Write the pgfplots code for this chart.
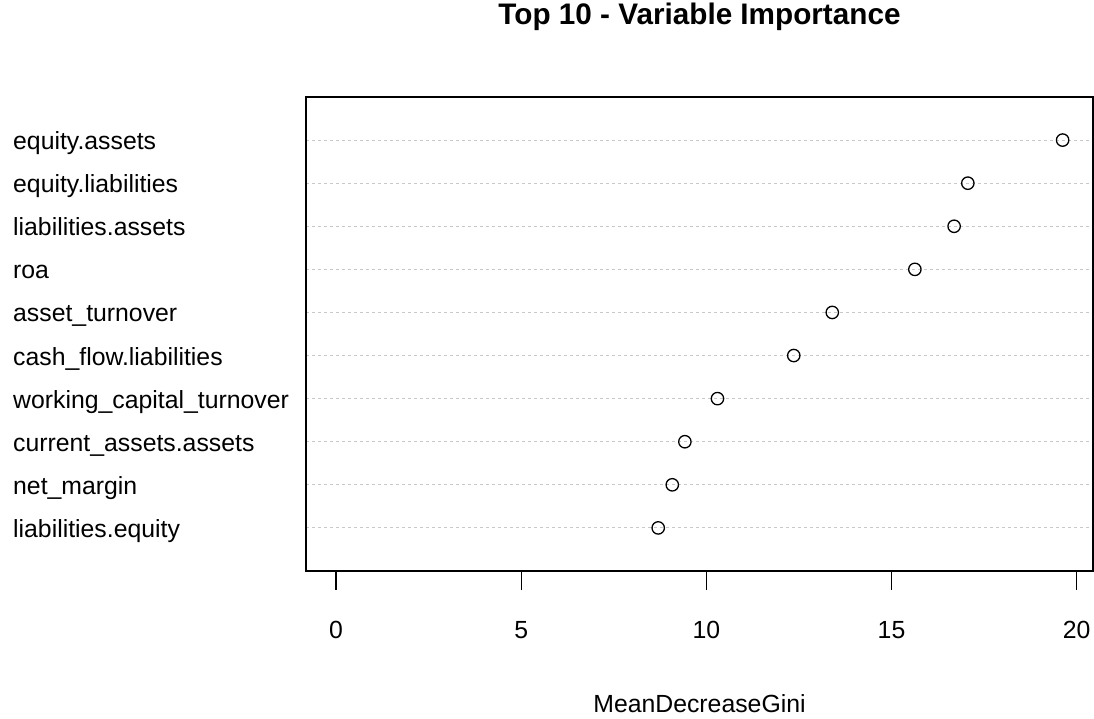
\documentclass[border=0pt]{standalone}
\usepackage{fontspec}
\setmainfont{Liberation Sans}
\usepackage{pgfplots}
\pgfplotsset{compat=1.18}
\definecolor{gridgray}{RGB}{200,200,200}
\begin{document}
\begin{tikzpicture}
\path[use as bounding box] (0,0) rectangle (1094pt,719pt);
\begin{axis}[
  at={(306pt,148pt)}, anchor=south west,
  scale only axis, width=787pt, height=474pt,
  xmin=-0.81, xmax=20.44, ymin=0, ymax=11,
  xtick={0,5,10,15,20},
  ytick={1,2,3,4,5,6,7,8,9,10},
  yticklabels={liabilities.equity, net\_margin, current\_assets.assets, working\_capital\_turnover, cash\_flow.liabilities, asset\_turnover, roa, liabilities.assets, equity.liabilities, equity.assets},
  axis line style={line width=1.2pt},
  every tick/.style={black, line width=1.2pt},
  xtick pos=bottom, tick align=outside,
  major tick length=19pt,
  ytick style={draw=none},
  ymajorgrids,
  major grid style={gridgray, line width=1.1pt, dash pattern=on 3pt off 3pt},
  /pgf/number format/assume math mode=true,
  tick label style={font=\fontsize{24.8}{29}\selectfont, inner sep=0pt},
  xticklabel style={anchor=base, yshift=-49pt},
  yticklabel style={anchor=base west, xshift=-274pt, yshift=-9.5pt},
  title={Top 10 - Variable Importance},
  title style={at={(axis description cs:0.5,1)}, anchor=base, yshift=66pt, font=\bfseries\fontsize{29.7}{34}\selectfont, inner sep=0pt},
  xlabel={MeanDecreaseGini},
  xlabel style={at={(axis description cs:0.5,0)}, anchor=base, yshift=-142pt, font=\fontsize{24.8}{29}\selectfont, inner sep=0pt},
]
\addplot[only marks, mark=o, mark size=6.2pt, mark options={black, line width=1.3pt, fill=white}] coordinates {
 (8.70,1) (9.08,2) (9.42,3) (10.30,4) (12.36,5) (13.40,6) (15.63,7) (16.69,8) (17.06,9) (19.62,10)
};
\end{axis}
\end{tikzpicture}
\end{document}
